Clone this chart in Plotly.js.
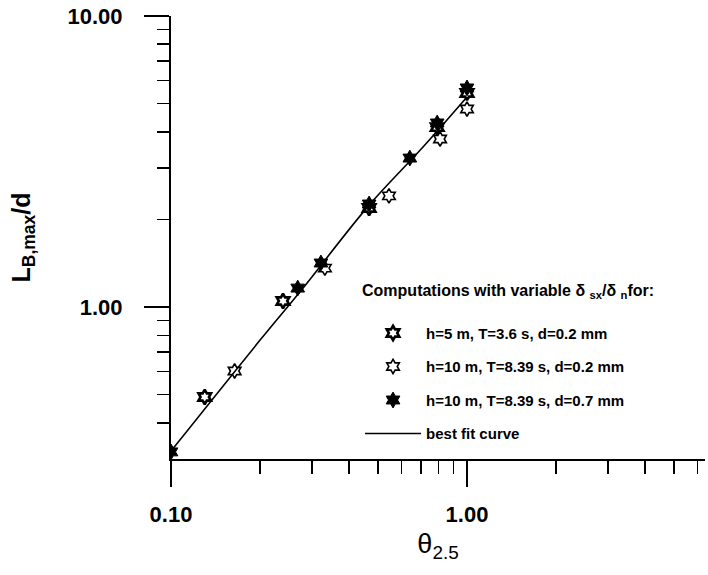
<!DOCTYPE html>
<html>
<head>
<meta charset="utf-8">
<script src="https://cdn.plot.ly/plotly-3.0.1.min.js"></script>
<style>html,body{margin:0;padding:0;background:#fff;}#chart{width:708px;height:575px;}</style>
</head>
<body>
<div id="chart"></div>
<script>
// Series 1: h=5 m, T=3.6 s, d=0.2 mm
const s1Theta = [0.130, 0.239, 0.467, 0.793, 1.0];
const s1L     = [0.491, 1.049, 2.19, 4.15, 5.44];
// Series 2: h=10 m, T=8.39 s, d=0.2 mm
const s2Theta = [0.164, 0.331, 0.545, 0.811, 1.0];
const s2L     = [0.603, 1.361, 2.41, 3.78, 4.79];
// Series 3: h=10 m, T=8.39 s, d=0.7 mm
const s3Theta = [0.100, 0.268, 0.321, 0.467, 0.641, 0.793, 1.0];
const s3L     = [0.318, 1.162, 1.417, 2.26, 3.25, 4.29, 5.66];
// Best fit curve
const fitTheta = [0.1, 0.2, 0.275, 0.467, 0.7, 1.0];
const fitL     = [0.32, 0.77, 1.14, 2.24, 3.49, 5.27];

const seriesNames = [
  'h=5 m, T=3.6 s, d=0.2 mm',
  'h=10 m, T=8.39 s, d=0.2 mm',
  'h=10 m, T=8.39 s, d=0.7 mm',
  'best fit curve'
];

const xTickVals = [0.1, 1];
const xTickText = ['0.10', '1.00'];
const xMinorVals = [0.2,0.3,0.4,0.5,0.6,0.7,0.8,0.9,2,3,4,5,6];
const yTickVals = [1, 10];
const yTickText = ['1.00', '10.00'];
const yMinorVals = [0.3,0.4,0.5,0.6,0.7,0.8,0.9,2,3,4,5,6,7,8,9];

const FONT = 'Liberation Sans, Arial, sans-serif';

const traces = [
  {x: s1Theta, y: s1L, name: seriesNames[0], mode: 'markers', legendgroup: 'a',
   marker: {symbol: 'hexagram-open', size: 11, color: 'black', line: {color: 'black', width: 2.6}}},
  {x: s2Theta, y: s2L, name: seriesNames[1], mode: 'markers', legendgroup: 'b',
   marker: {symbol: 'hexagram-open', size: 11, color: 'black', line: {color: 'black', width: 1.6}}},
  {x: s3Theta, y: s3L, name: seriesNames[2], mode: 'markers', legendgroup: 'c',
   marker: {symbol: 'hexagram', size: 12, color: 'black', line: {color: 'black', width: 1}}},
  {x: fitTheta, y: fitL, name: seriesNames[3], mode: 'lines', legendgroup: 'd',
   line: {color: 'black', width: 1.6, shape: 'spline'}}
];

const layout = {
  width: 708, height: 575,
  margin: {l: 171, r: 3, t: 16, b: 116},
  paper_bgcolor: 'white', plot_bgcolor: 'white',
  font: {family: FONT, color: 'black'},
  showlegend: true,
  legend: {
    x: 0.354, y: 0.415, xanchor: 'left', yanchor: 'top',
    bgcolor: 'rgba(0,0,0,0)', borderwidth: 0,
    tracegroupgap: 11,
    itemwidth: 56,
    font: {family: FONT, size: 15, color: 'black', weight: 'bold'},
    title: {text: 'Computations with variable δ <sub>sx</sub>/δ <sub>n</sub>for:<br> ',
            font: {family: FONT, size: 16, color: 'black', weight: 'bold'}}
  },
  xaxis: {
    type: 'log', range: [-1, 0.804],
    showgrid: false, zeroline: false,
    showline: true, linecolor: 'black', linewidth: 2,
    ticks: 'outside', ticklen: 26, tickwidth: 2, tickcolor: 'black',
    tickmode: 'array', tickvals: xTickVals, ticktext: xTickText,
    ticklabelstandoff: 9,
    tickfont: {family: FONT, size: 22, weight: 'bold'},
    minor: {tickmode: 'array', tickvals: xMinorVals, ticks: 'outside', ticklen: 13, tickwidth: 1.5, tickcolor: 'black', showgrid: false},
    title: {text: 'θ<sub>2.5</sub>', font: {family: FONT, size: 27}, standoff: 8}
  },
  yaxis: {
    type: 'log', range: [-0.522, 1],
    showgrid: false, zeroline: false,
    showline: true, linecolor: 'black', linewidth: 2,
    ticks: 'outside', ticklen: 25, tickwidth: 2, tickcolor: 'black',
    tickmode: 'array', tickvals: yTickVals, ticktext: yTickText,
    ticklabelstandoff: 17,
    tickfont: {family: FONT, size: 22, weight: 'bold'},
    minor: {tickmode: 'array', tickvals: yMinorVals, ticks: 'outside', ticklen: 12, tickwidth: 1.5, tickcolor: 'black', showgrid: false},
    title: {text: 'L<sub>B,max</sub>/d', font: {family: FONT, size: 25, weight: 'bold'}, standoff: 30}
  }
};

Plotly.newPlot('chart', traces, layout, {displayModeBar: false, staticPlot: true});
</script>
</body>
</html>
